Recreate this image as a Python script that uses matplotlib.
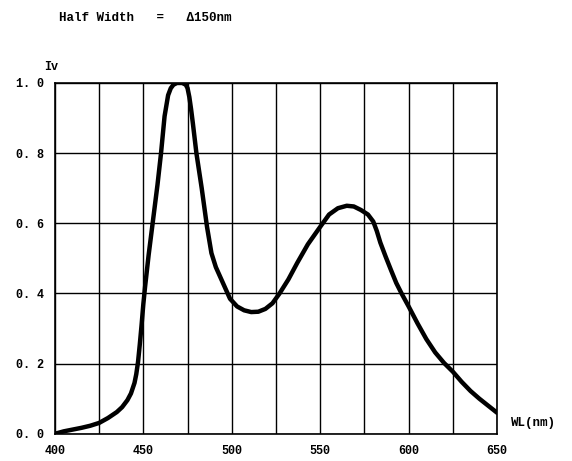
import matplotlib
matplotlib.use("Agg")
import matplotlib.pyplot as plt

# spectrum
wavelength = [400, 405, 410, 415, 420, 425, 430, 435, 438, 441, 443, 445, 446,
              447, 448, 449, 450, 451, 453, 455, 458, 460, 462, 464, 465.5, 467,
              469, 470.5, 472, 474, 475, 476, 477, 478, 480, 483, 486, 488.5,
              491, 495, 499, 503, 507, 511, 515, 519, 523, 527, 532, 537, 543,
              550, 555, 560, 565, 569, 573, 577, 580, 582, 584, 587, 590, 593,
              596, 600, 605, 610, 615, 620, 625, 630, 635, 640, 645, 650]
intensity = [0.0, 0.007, 0.012, 0.017, 0.023, 0.031, 0.045, 0.062, 0.076, 0.096,
             0.115, 0.145, 0.17, 0.205, 0.255, 0.31, 0.37, 0.42, 0.51, 0.59,
             0.71, 0.80, 0.905, 0.965, 0.985, 0.995, 1.0, 1.0, 1.0, 0.995, 0.985,
             0.96, 0.925, 0.885, 0.80, 0.70, 0.59, 0.515, 0.475, 0.43, 0.385,
             0.363, 0.352, 0.347, 0.348, 0.356, 0.372, 0.40, 0.44, 0.487, 0.54,
             0.59, 0.625, 0.643, 0.65, 0.648, 0.638, 0.625, 0.605, 0.578, 0.545,
             0.505, 0.467, 0.43, 0.40, 0.363, 0.315, 0.27, 0.232, 0.202, 0.177,
             0.148, 0.122, 0.1, 0.08, 0.06]

x_ticks = [400, 450, 500, 550, 600, 650]
y_ticks = [0.0, 0.2, 0.4, 0.6, 0.8, 1.0]
y_labels = ["0. 0", "0. 2", "0. 4", "0. 6", "0. 8", "1. 0"]

font = "Liberation Mono"

fig = plt.figure(figsize=(5.72, 4.61), dpi=100)
ax = fig.add_axes([0.096, 0.059, 0.773, 0.761])

ax.plot(wavelength, intensity, color="black", lw=3.2,
        solid_joinstyle="round", solid_capstyle="round", zorder=3)

ax.set_xlim(400, 650)
ax.set_ylim(0, 1.0)
ax.set_xticks(range(400, 651, 25))
ax.set_yticks(y_ticks)
ax.grid(True, color="black", lw=1.0)
ax.set_xticklabels([str(t) if t in x_ticks else "" for t in range(400, 651, 25)],
                   fontsize=8.5, family=font, fontweight="bold")
ax.set_yticklabels(y_labels, fontsize=8.5, family=font, fontweight="bold")
ax.tick_params(length=0, pad=8)
for s in ax.spines.values():
    s.set_linewidth(1.2)
    s.set_color("black")

fig.text(59 / 572, 1 - 18 / 461, "Half Width   =   \u0394150nm", family=font,
         fontsize=9, fontweight="bold", va="center", ha="left")
fig.text(44 / 572, 1 - 67 / 461, "Iv", family=font, fontsize=8.5,
         fontweight="bold", va="center", ha="left")
fig.text(511 / 572, 1 - 423 / 461, "WL(nm)", family=font, fontsize=9,
         fontweight="bold", va="center", ha="left")

fig.savefig("out.png", dpi=100)
